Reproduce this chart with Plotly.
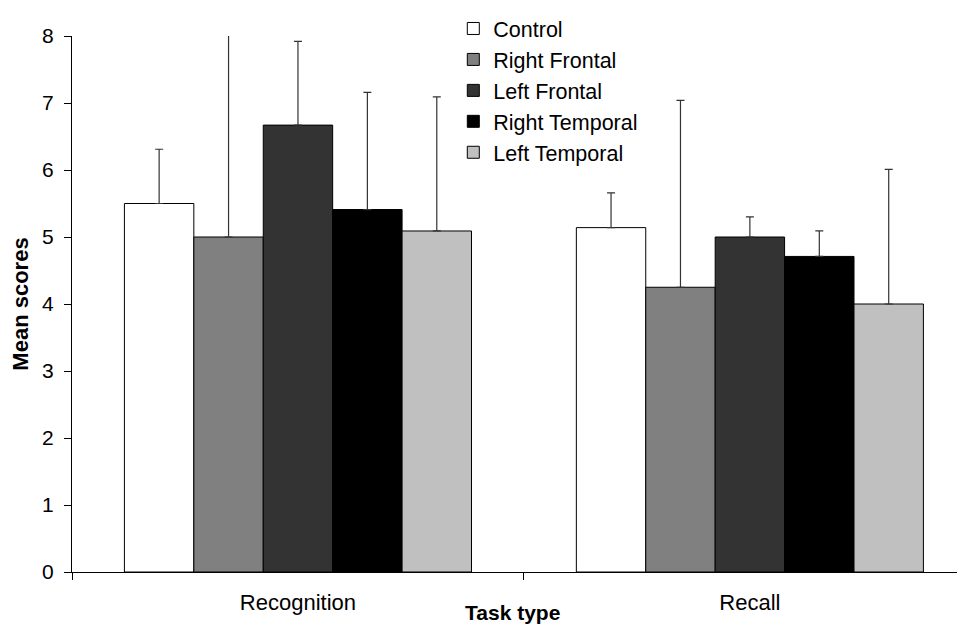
import plotly.graph_objects as go

categories = ["Recognition", "Recall"]
groups = ["Control", "Right Frontal", "Left Frontal", "Right Temporal", "Left Temporal"]
means = {
    "Control":        [5.50, 5.14],
    "Right Frontal":  [5.00, 4.25],
    "Left Frontal":   [6.67, 5.00],
    "Right Temporal": [5.41, 4.71],
    "Left Temporal":  [5.09, 4.00],
}
errors = {
    "Control":        [0.81, 0.52],
    "Right Frontal":  [3.30, 2.79],
    "Left Frontal":   [1.25, 0.30],
    "Right Temporal": [1.75, 0.38],
    "Left Temporal":  [2.00, 2.01],
}
colors = {
    "Control": "#FFFFFF",
    "Right Frontal": "#808080",
    "Left Frontal": "#333333",
    "Right Temporal": "#000000",
    "Left Temporal": "#C0C0C0",
}

FONT = "Liberation Sans, Arial, sans-serif"

fig = go.Figure()
for g in groups:
    fig.add_trace(go.Bar(
        name=g,
        x=categories,
        y=means[g],
        marker=dict(color=colors[g], line=dict(color="#000000", width=1)),
        error_y=dict(type="data", array=errors[g], symmetric=False,
                     arrayminus=[0, 0], color="#333333", thickness=1.2, width=4),
    ))

fig.add_annotation(
    text="<b>Task type</b>", xref="paper", yref="paper",
    x=0.4938, y=-0.075, xanchor="center", yanchor="middle",
    showarrow=False, font=dict(family=FONT, size=21, color="#000000"),
)

fig.update_layout(
    width=957, height=616,
    margin=dict(l=64, r=0, t=28, b=52, autoexpand=False),
    paper_bgcolor="white", plot_bgcolor="white",
    barmode="group", bargap=0.232, bargroupgap=0,
    font=dict(family=FONT, size=21, color="#000000"),
    showlegend=True,
    legend=dict(
        x=0.427, y=1.016, xref="paper", yref="container",
        xanchor="left", yanchor="top",
        bgcolor="rgba(0,0,0,0)", borderwidth=0,
        font=dict(family=FONT, size=21.5, color="#000000"),
        tracegroupgap=0, itemwidth=30,
    ),
    xaxis=dict(
        type="category", range=[-0.5, 1.476],
        tickson="boundaries", ticks="outside", ticklen=7, tickcolor="#000000",
        ticklabelstandoff=11,
        showline=True, linecolor="#000000", linewidth=1,
        showgrid=False, zeroline=False,
        tickfont=dict(family=FONT, size=22),
    ),
    yaxis=dict(
        range=[0, 8], tickvals=[0, 1, 2, 3, 4, 5, 6, 7, 8],
        ticks="outside", ticklen=7, tickcolor="#000000",
        ticklabelstandoff=6,
        showline=True, linecolor="#000000", linewidth=1,
        showgrid=False, zeroline=False,
        tickfont=dict(family=FONT, size=21),
        title=dict(text="<b>Mean scores</b>", font=dict(family=FONT, size=22), standoff=8),
    ),
)

fig.write_html("out.html")
